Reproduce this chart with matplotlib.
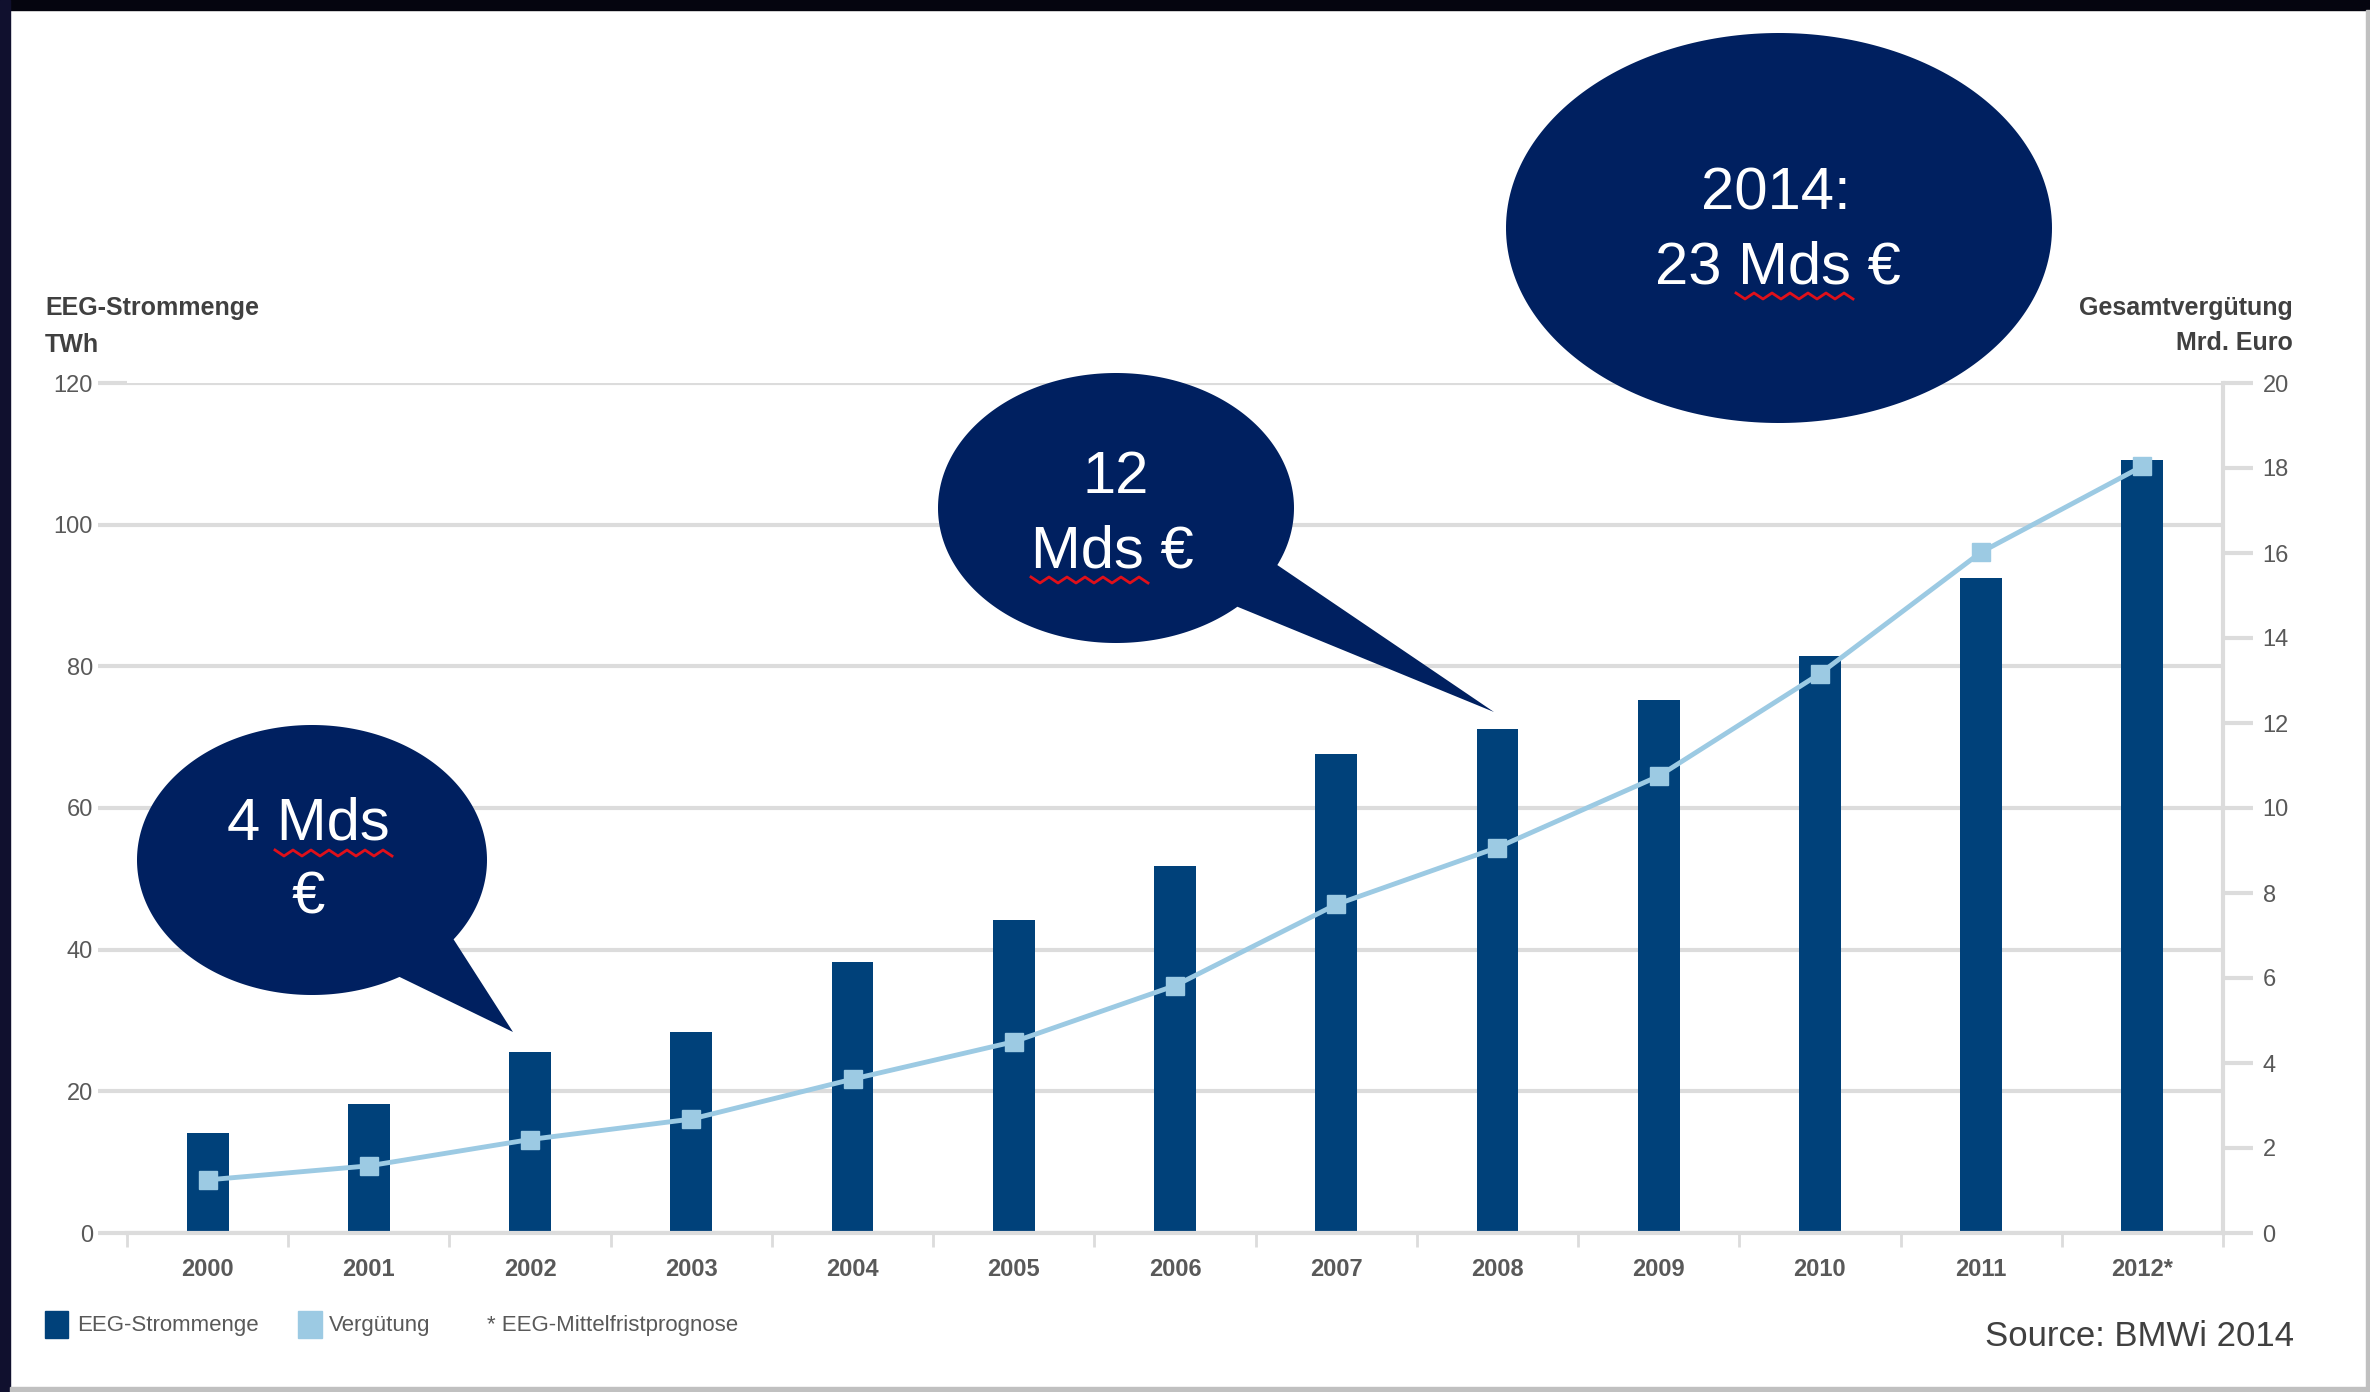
import matplotlib
matplotlib.use('Agg')
import matplotlib.pyplot as plt
import numpy as np
from matplotlib.patches import Polygon, Rectangle

plt.rcParams['font.family'] = ['Liberation Sans', 'DejaVu Sans']

# Daten
jahre = ['2000', '2001', '2002', '2003', '2004', '2005', '2006',
         '2007', '2008', '2009', '2010', '2011', '2012*']
strommenge = [14.1, 18.2, 25.6, 28.4, 38.2, 44.2, 51.8, 67.6, 71.2, 75.3, 81.5, 92.5, 109.1]  # TWh
verguetung = [1.25, 1.58, 2.2, 2.68, 3.62, 4.5, 5.82, 7.73, 9.07, 10.75, 13.16, 16.02, 18.04]  # Mrd. Euro
ticks_links = [0, 20, 40, 60, 80, 100, 120]
ticks_rechts = [0, 2, 4, 6, 8, 10, 12, 14, 16, 18, 20]

W, H = 2370, 1392
navy = '#002060'
balken = '#00417a'
hellblau = '#9ccae3'
grau = '#dcdcdc'
textgrau = '#595959'

fig = plt.figure(figsize=(W / 100, H / 100), dpi=100)
fig.patch.set_facecolor('white')

# Hauptachse
ax = fig.add_axes([127 / W, 1 - 1233 / H, (2223 - 127) / W, (1233 - 383) / H])
x = np.arange(len(jahre))
ax.bar(x, strommenge, width=0.26, color=balken, zorder=2)
ax.set_xlim(-0.5, len(jahre) - 0.5)
ax.set_ylim(0, 120)
ax.set_yticks(ticks_links)
ax.set_axisbelow(True)
ax.grid(axis='y', color=grau, lw=3)
ax.grid(axis='x', visible=False)
for s in ['top', 'right', 'left']:
    ax.spines[s].set_visible(False)
ax.spines['bottom'].set_color(grau)
ax.spines['bottom'].set_linewidth(3)
ax.tick_params(axis='y', direction='out', length=21, width=3, color=grau,
               labelsize=17, labelcolor=textgrau, pad=3.5)
ax.set_xticks(x)
ax.set_xticklabels(jahre, fontweight='bold')
ax.set_xticks(np.arange(-0.5, len(jahre), 1), minor=True)
ax.tick_params(axis='x', which='major', length=0, labelsize=17, labelcolor=textgrau, pad=18)
ax.tick_params(axis='x', which='minor', length=10, width=2, color=grau)

# rechte Achse
ax2 = ax.twinx()
ax2.plot(x, verguetung, color=hellblau, lw=3.5, marker='s', ms=13, zorder=3)
ax2.set_ylim(0, 20)
ax2.set_yticks(ticks_rechts)
for s in ['top', 'left', 'bottom']:
    ax2.spines[s].set_visible(False)
ax2.spines['right'].set_color(grau)
ax2.spines['right'].set_linewidth(3)
ax2.tick_params(axis='y', direction='out', length=21.5, width=3, color=grau,
                labelsize=17, labelcolor=textgrau, pad=7)

# Achsentitel
fig.text(45 / W, 1 - 308 / H, 'EEG-Strommenge', fontsize=18, fontweight='bold',
         color='#404040', ha='left', va='center')
fig.text(45 / W, 1 - 345 / H, 'TWh', fontsize=18, fontweight='bold',
         color='#404040', ha='left', va='center')
fig.text(2293 / W, 1 - 308 / H, 'Gesamtvergütung', fontsize=18, fontweight='bold',
         color='#404040', ha='right', va='center')
fig.text(2293 / W, 1 - 343 / H, 'Mrd. Euro', fontsize=18, fontweight='bold',
         color='#404040', ha='right', va='center')

# Overlay in Pixelkoordinaten fuer Blasen, Legende, Rahmen
ov = fig.add_axes([0, 0, 1, 1], zorder=10)
ov.set_xlim(0, W)
ov.set_ylim(H, 0)
ov.axis('off')


def blase(cx, cy, a, b, zeilen, tail=None):
    if tail is None:
        t = np.linspace(0, 2 * np.pi, 300)
        pts = np.column_stack([cx + a * np.cos(t), cy + b * np.sin(t)])
    else:
        t_unten, t_oben, spitze = tail
        t = np.radians(np.linspace(t_unten, t_oben + 360, 300))
        pts = np.column_stack([cx + a * np.cos(t), cy + b * np.sin(t)])
        pts = np.vstack([pts, spitze])
    ov.add_patch(Polygon(pts, closed=True, fc=navy, ec='none'))
    for tx, ty, txt in zeilen:
        ov.text(tx, ty, txt, color='white', fontsize=43, ha='center', va='baseline')


def welle(x0, x1, y):
    xs = np.arange(x0, x1 + 1, 9)
    ys = y + np.where(np.arange(len(xs)) % 2 == 0, -3, 3)
    ov.plot(xs, ys, color='#e0101a', lw=2)


blase(312, 860, 175, 135, [(308, 840, '4 Mds'), (308, 913, '€')],
      tail=(60, 36, (513, 1032)))
welle(275, 397, 853)
blase(1116, 508, 178, 135, [(1116, 493, '12'), (1112, 567, 'Mds €')],
      tail=(47, 25, (1494, 712)))
welle(1031, 1150, 580)
blase(1779, 228, 273, 195, [(1776, 210, '2014:'), (1778, 283, '23 Mds €')])
welle(1736, 1856, 296)

# Legende
ov.add_patch(Rectangle((45, 1311), 23, 27, color=balken))
ov.text(77, 1326, 'EEG-Strommenge', fontsize=16, color=textgrau, va='center')
ov.add_patch(Rectangle((298, 1311), 24, 27, color=hellblau))
ov.text(329, 1326, 'Vergütung', fontsize=16, color=textgrau, va='center')
ov.text(487, 1326, '* EEG-Mittelfristprognose', fontsize=16, color=textgrau, va='center')

ov.text(1985, 1337, 'Source: BMWi 2014', fontsize=25, color='#404040', va='center')

# Rahmen
ov.add_patch(Rectangle((0, 0), W, 10, color='#05050f'))
ov.add_patch(Rectangle((0, 0), 10, H, color='#10102e'))
ov.add_patch(Rectangle((W - 4, 10), 4, H, color='#c0c0c0'))
ov.add_patch(Rectangle((10, H - 5), W, 5, color='#c0c0c0'))

fig.savefig('out.png', dpi=100)
